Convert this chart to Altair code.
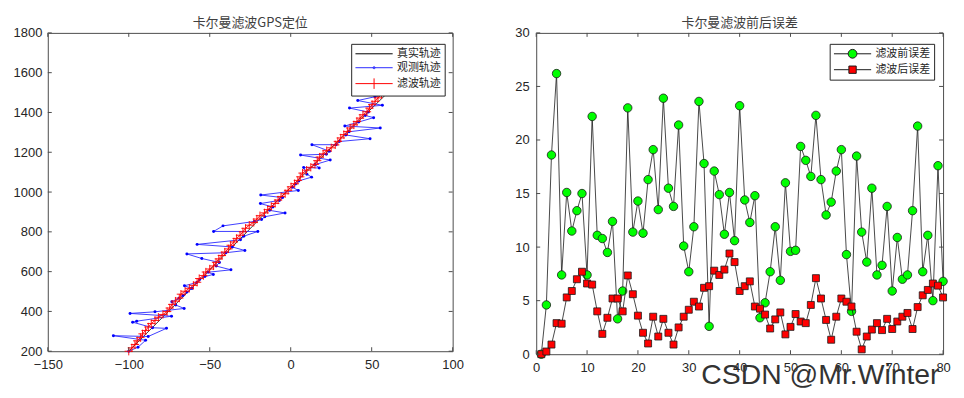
import altair as alt
import pandas as pd

# ---------------- data ----------------
left_title = "卡尔曼滤波GPS定位"
right_title = "卡尔曼滤波前后误差"
left_series = ["真实轨迹", "观测轨迹", "滤波轨迹"]
left_colors = ["#000000", "#2b2bff", "#ff0000"]
right_series = ["滤波前误差", "滤波后误差"]
right_colors = ["#00ff00", "#ff0000"]
watermark = ["CSDN @Mr.Winter"]

x_ticks_left = [-150, -100, -50, 0, 50, 100]
y_ticks_left = [200, 400, 600, 800, 1000, 1200, 1400, 1600, 1800]
x_ticks_right = [0, 10, 20, 30, 40, 50, 60, 70, 80]
y_ticks_right = [0, 5, 10, 15, 20, 25, 30]

true_x = [-100, -51, -3, 60]
true_y = [200, 600, 1000, 1500]

obs_x = [-100, -94.3, -89.6, -109.5, -88.0, -76.7, -85.3, -97.6, -95.1, -73.6,
         -99.2, -83.8, -65.8, -71.0, -73.4, -69.0, -66.5, -64.0, -61.0, -65.6,
         -58.0, -56.2, -53.0, -47.8, -51.0, -36.9, -46.0, -44.0, -54.9, -64.1,
         -40.0, -28.3, -36.0, -57.8, -31.0, -29.0, -20.3, -47.6, -41.8, -22.5,
         -18.0, -16.0, -3.5, -13.0, -11.0, -18.7, -7.0, -5.0, -18.5, 4.7,
         1.0, 3.0, 5.0, 12.9, 10.0, 8.0, 17.6, 15.0, 24.4, 6.1,
         22.0, 24.0, 13.1, 28.0, 30.0, 49.0, 34.0, 36.0, 55.3, 33.4,
         42.0, 51.2, 46.0, 48.0, 36.3, 56.6, 41.4, 52.0, 62.0, 68.2]
obs_y = [200, 220, 255, 278, 274, 315, 318, 346, 351, 376,
         390, 398, 415, 432, 449, 466, 480, 497, 515, 529,
         545, 561, 575, 586, 597, 609, 628, 646, 666, 689,
         695, 706, 724, 737, 760, 778, 802, 802, 830, 852,
         862, 876, 895, 908, 925, 942, 958, 972, 985, 1008,
         1024, 1040, 1056, 1075, 1090, 1123, 1121, 1138, 1161, 1186,
         1190, 1205, 1238, 1238, 1254, 1268, 1287, 1303, 1322, 1332,
         1352, 1374, 1385, 1402, 1422, 1436, 1460, 1479, 1497, 1500]

filt_x = [-100, -98.1, -96.2, -94.8, -92.8, -91.5, -89.6, -87.9, -86.1, -83.8,
          -81.7, -78.9, -76.3, -74.7, -73.2, -71.2, -68.8, -67.8, -65.2, -62.6,
          -60.1, -57.8, -56.5, -53.9, -52.4, -50.0, -47.6, -46.1, -44.4, -42.5,
          -40.7, -38.5, -37.1, -35.1, -33.4, -31.3, -29.5, -27.9, -25.6, -22.8,
          -20.9, -19.0, -16.2, -14.2, -12.0, -9.6, -7.8, -6.0, -3.4, -1.6,
          0.2, 2.4, 4.4, 5.9, 7.3, 9.8, 12.4, 15.0, 16.4, 17.9,
          20.0, 22.2, 25.0, 27.5, 29.1, 30.9, 32.8, 35.0, 36.7, 39.0,
          40.9, 42.8, 44.6, 47.1, 48.6, 50.3, 52.1, 53.9, 56.1, 58.4]
filt_y = [200, 216.7, 233.8, 252.2, 268.5, 287.3, 304.3, 321.8, 338.9, 354.4,
          370.8, 384.8, 399.3, 417.1, 435.3, 451.7, 467.1, 486.7, 501.5, 516.1,
          531.0, 546.6, 565.3, 580.1, 598.0, 613.3, 628.7, 646.7, 664.1, 681.1,
          698.4, 714.3, 732.5, 749.0, 766.9, 782.9, 799.9, 817.8, 833.5, 847.4,
          864.2, 881.2, 895.3, 911.6, 927.6, 942.8, 960.1, 977.1, 991.7, 1008.7,
          1026.4, 1042.1, 1058.5, 1076.6, 1095.3, 1110.0, 1124.5, 1139.3, 1157.7, 1175.8,
          1192.0, 1208.0, 1222.3, 1237.1, 1254.8, 1271.8, 1288.9, 1304.6, 1322.1, 1337.6,
          1354.8, 1371.7, 1388.5, 1403.5, 1421.9, 1439.4, 1456.3, 1473.4, 1489.6, 1505.0]

steps = list(range(1, 81))
before_err = [0, 4.6, 18.6, 26.2, 7.4, 15.1, 11.5, 13.4, 15.0, 7.4,
              22.2, 11.1, 10.8, 9.5, 12.4, 3.3, 5.9, 23.0, 11.4, 14.3,
              11.3, 16.3, 19.1, 13.5, 23.9, 15.5, 13.8, 21.4, 10.1, 7.7,
              11.9, 23.6, 17.8, 2.6, 17.1, 14.9, 11.2, 15.1, 10.6, 23.2,
              14.4, 12.3, 14.8, 3.4, 4.8, 7.7, 11.9, 6.9, 16.0, 9.6,
              9.7, 19.4, 18.1, 16.6, 22.3, 16.3, 13.0, 14.2, 17.1, 19.1,
              9.3, 4.0, 18.5, 11.4, 8.6, 15.5, 7.4, 8.3, 13.8, 5.9,
              10.9, 7.0, 7.4, 13.4, 21.3, 7.7, 11.1, 5.0, 17.6, 6.8]
after_err = [0, 0.25, 0.9, 2.9, 2.85, 5.3, 5.9, 7.0, 7.7, 6.6,
             6.5, 4.0, 1.9, 3.4, 5.2, 5.2, 4.0, 7.35, 5.6, 3.6,
             2.0, 1.0, 3.5, 1.65, 3.3, 2.0, 0.9, 2.5, 3.5, 4.15,
             4.9, 4.45, 6.2, 6.35, 7.8, 7.4, 7.9, 9.4, 8.6, 5.9,
             6.35, 6.8, 4.45, 4.25, 3.7, 2.4, 3.25, 3.9, 1.85, 2.55,
             3.75, 3.05, 2.9, 4.6, 7.1, 5.2, 3.2, 1.35, 3.5, 5.2,
             4.9, 4.45, 2.1, 0.45, 1.65, 2.3, 2.9, 2.25, 3.3, 2.35,
             3.05, 3.5, 3.85, 2.35, 4.4, 5.5, 6.0, 6.6, 6.4, 5.3]

# ---------------- styling ----------------
FRAME = "#4d4d4d"
TXT = "#262626"
CJK = "Noto Sans CJK SC"
LW, LH = 407, 320
RW, RH = 409, 323
SYM = 121          # legend symbol size -> unit = sqrt(SYM)/2 = 5.5 px

true_df = pd.DataFrame({"x": true_x, "y": true_y, "i": list(range(len(true_x)))})
obs_df = pd.DataFrame({"x": obs_x, "y": obs_y, "i": list(range(len(obs_x)))})
filt_df = pd.DataFrame({"x": filt_x, "y": filt_y, "i": list(range(len(filt_x)))})
err_df = pd.DataFrame({"step": steps, "before": before_err, "after": after_err})


def inner_ticks(xvals, yvals, xe_fn, ye_fn, W, H):
    xd = alt.Chart(pd.DataFrame({"v": xvals}))
    yd = alt.Chart(pd.DataFrame({"v": yvals}))
    return [
        xd.mark_rule(color=FRAME, strokeWidth=1).encode(x=xe_fn("v"), y=alt.value(H), y2=alt.value(H - 4)),
        xd.mark_rule(color=FRAME, strokeWidth=1).encode(x=xe_fn("v"), y=alt.value(0), y2=alt.value(4)),
        yd.mark_rule(color=FRAME, strokeWidth=1).encode(y=ye_fn("v"), x=alt.value(0), x2=alt.value(4)),
        yd.mark_rule(color=FRAME, strokeWidth=1).encode(y=ye_fn("v"), x=alt.value(W), x2=alt.value(W - 4)),
    ]


def legend(x, y):
    return alt.Legend(
        title=None, orient="none", legendX=x, legendY=y, direction="vertical",
        strokeColor=TXT, fillColor="white", padding=4, cornerRadius=0,
        labelFont=CJK, labelFontSize=11, labelColor=TXT, labelOffset=17,
        symbolOffset=13, rowPadding=3, symbolSize=SYM, symbolStrokeWidth=1)

# ---------------- left chart ----------------
lx = alt.Scale(domain=[-150, 100], nice=False, zero=False)
ly = alt.Scale(domain=[200, 1800], nice=False, zero=False)
ax_lx = alt.Axis(values=x_ticks_left, title=None, labelFlush=False, labelPadding=7, format="d")
ax_ly = alt.Axis(values=y_ticks_left, title=None, labelFlush=False, labelPadding=6, format="d")


def LX(f):
    return alt.X(f + ":Q", scale=lx, axis=ax_lx)


def LY(f):
    return alt.Y(f + ":Q", scale=ly, axis=ax_ly)


true_line = alt.Chart(true_df).mark_line(color="black", strokeWidth=0.8).encode(
    x=LX("x"), y=LY("y"), order="i:Q")
obs_line = alt.Chart(obs_df).mark_line(color="#2b2bff", strokeWidth=0.9).encode(
    x=LX("x"), y=LY("y"), order="i:Q")
obs_pts = alt.Chart(obs_df).mark_point(filled=True, size=9, color="#0000ff", opacity=1).encode(
    x=LX("x"), y=LY("y"))
filt_line = alt.Chart(filt_df).mark_line(color="#ff0000", strokeWidth=0.9).encode(
    x=LX("x"), y=LY("y"), order="i:Q")
filt_pts = alt.Chart(filt_df).mark_point(shape="M-1,0H1M0,-1V1", filled=False, size=70,
                                         color="#ff0000", strokeWidth=0.9, opacity=1).encode(
    x=LX("x"), y=LY("y"))

left_paths = ["M-3.4,0H3.4",
              "M-3.4,0H3.4M-0.2,0A0.2,0.2,0,1,1,0.2,0A0.2,0.2,0,1,1,-0.2,0Z",
              "M-3.4,0H3.4M0,-0.96V0.96"]
left_leg_df = pd.DataFrame({"series": left_series, "x": [0, 0, 0], "y": [200, 200, 200]})
left_leg = alt.Chart(left_leg_df).transform_filter("false").mark_point(
    size=SYM, filled=False, strokeWidth=1, opacity=1).encode(
    x=LX("x"), y=LY("y"),
    stroke=alt.Stroke("series:N", scale=alt.Scale(domain=left_series, range=left_colors),
                      legend=legend(305, 11)),
    shape=alt.Shape("series:N", scale=alt.Scale(domain=left_series, range=left_paths),
                    legend=legend(305, 11)))

left = alt.layer(true_line, obs_line, obs_pts, filt_line, filt_pts, left_leg,
                 *inner_ticks(x_ticks_left, y_ticks_left, LX, LY, LW, LH)).properties(
    width=LW, height=LH, title=left_title)

# ---------------- right chart ----------------
rx = alt.Scale(domain=[0, 80], nice=False, zero=False)
ry = alt.Scale(domain=[0, 30], nice=False, zero=False)
ax_rx = alt.Axis(values=x_ticks_right, title=None, labelFlush=False, labelPadding=7, format="d")
ax_ry = alt.Axis(values=y_ticks_right, title=None, labelFlush=False, labelPadding=7, format="d")


def RX(f):
    return alt.X(f + ":Q", scale=rx, axis=ax_rx)


def RY(f):
    return alt.Y(f + ":Q", scale=ry, axis=ax_ry)


base = alt.Chart(err_df)
b_line = base.mark_line(color="#1a1a1a", strokeWidth=0.8).encode(x=RX("step"), y=RY("before"))
b_pts = base.mark_point(shape="circle", filled=True, size=72, fill="#00ff00", stroke="#1a1a1a",
                        strokeWidth=0.8, opacity=1).encode(x=RX("step"), y=RY("before"))
a_line = base.mark_line(color="#1a1a1a", strokeWidth=0.8).encode(x=RX("step"), y=RY("after"))
a_pts = base.mark_point(shape="square", filled=True, size=49, fill="#ff0000", stroke="#1a1a1a",
                        strokeWidth=0.8, opacity=1).encode(x=RX("step"), y=RY("after"))

right_paths = ["M-3.4,0H-0.8M0.8,0H3.4M-0.8,0A0.8,0.8,0,1,1,0.8,0A0.8,0.8,0,1,1,-0.8,0Z",
               "M-3.4,0H-0.67M0.67,0H3.4M-0.67,-0.67H0.67V0.67H-0.67Z"]
right_leg_df = pd.DataFrame({"series": right_series, "step": [0, 0], "before": [0, 0]})
right_leg = alt.Chart(right_leg_df).transform_filter("false").mark_point(
    size=SYM, filled=True, stroke="#1a1a1a", strokeWidth=0.8, opacity=1).encode(
    x=RX("step"), y=RY("before"),
    fill=alt.Fill("series:N", scale=alt.Scale(domain=right_series, range=right_colors),
                  legend=legend(295, 11)),
    shape=alt.Shape("series:N", scale=alt.Scale(domain=right_series, range=right_paths),
                    legend=legend(295, 11)))

wm = alt.Chart(pd.DataFrame({"t": watermark})).mark_text(
    align="left", baseline="alphabetic", font="Liberation Sans", fontSize=28.5, color="#333333").encode(
    text="t:N", x=alt.value(166), y=alt.value(353))

right = alt.layer(b_line, b_pts, a_line, a_pts, right_leg,
                  *inner_ticks(x_ticks_right, y_ticks_right, RX, RY, RW, RH), wm).properties(
    width=RW, height=RH, title=right_title)

chart = alt.hconcat(left, right, spacing=50).resolve_scale(
    shape="independent", stroke="independent", fill="independent").resolve_legend(
    shape="independent", stroke="independent", fill="independent").properties(
    padding={"left": 4, "top": 7, "right": 5, "bottom": 5}
).configure_view(stroke=FRAME, strokeWidth=1).configure_axis(
    labelFont="Liberation Sans", labelFontSize=13, labelColor=TXT, grid=False, ticks=False,
    domain=False
).configure_title(font=CJK, fontSize=13, fontWeight="normal", color="#404040", offset=-3, anchor="middle")

chart.save("out.html", embed_options={"renderer": "svg", "actions": False})
